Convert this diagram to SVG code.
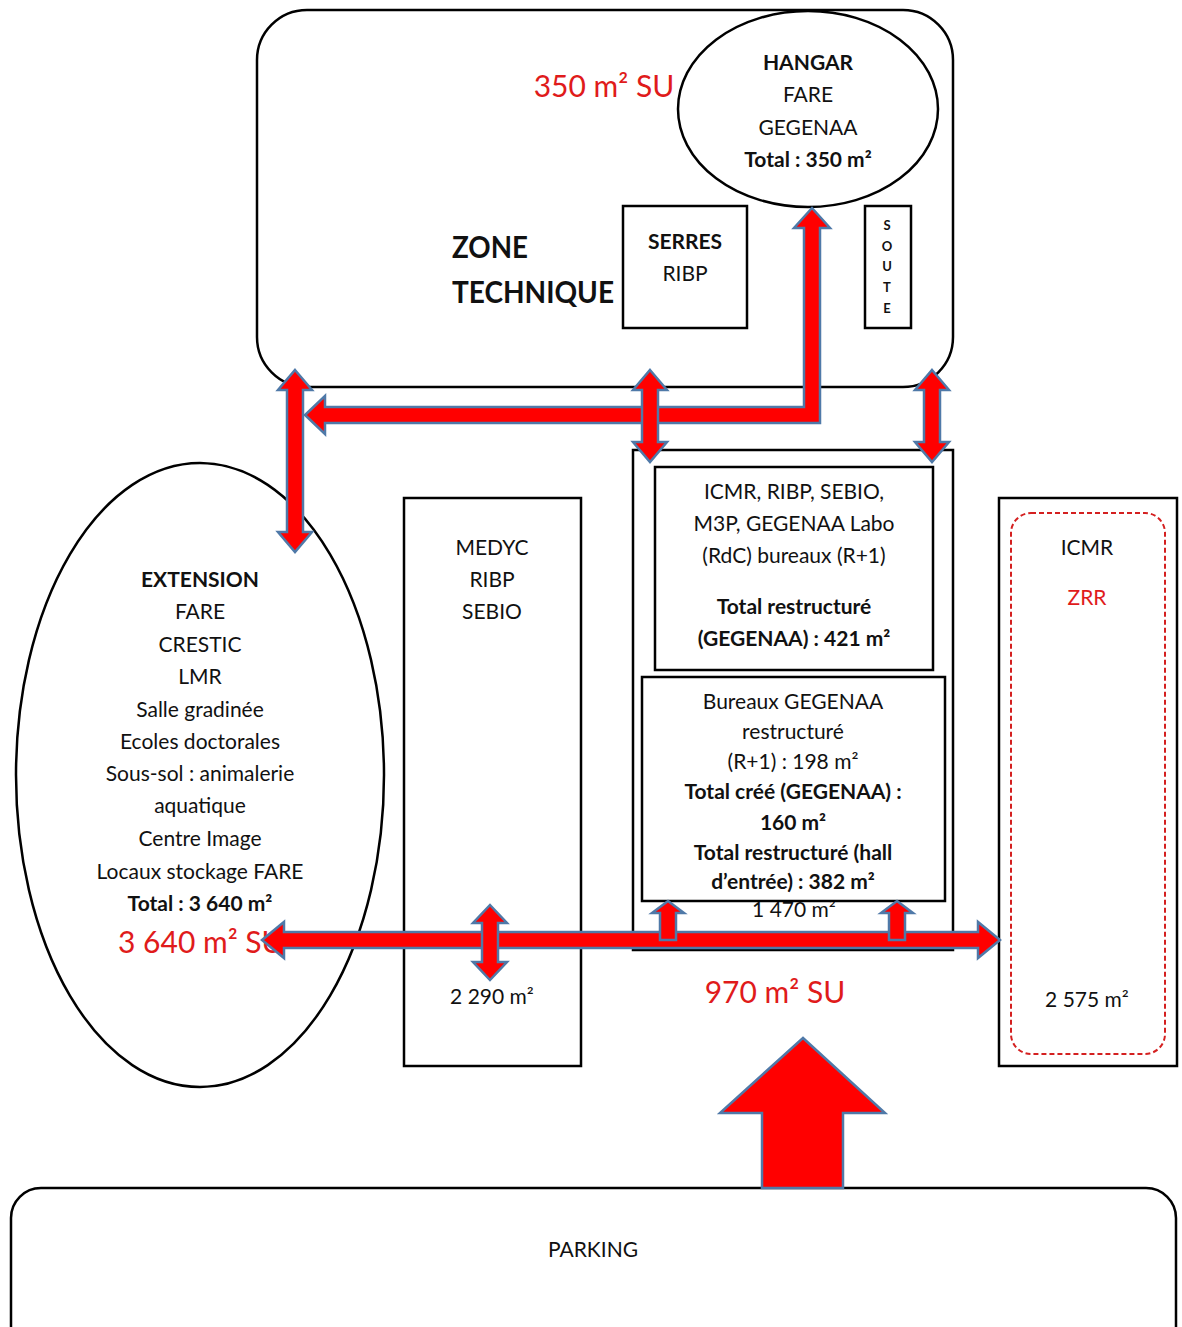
<svg xmlns="http://www.w3.org/2000/svg" width="1182" height="1327" viewBox="0 0 1182 1327">
<style>
.box{fill:#fff;stroke:#000;stroke-width:2.5}
.arr{fill:#ff0000;stroke:#4f79a8;stroke-width:2.5;stroke-linejoin:miter}
text{font-family:Lato,"Open Sans","Liberation Sans",sans-serif;font-size:21px;fill:#111;text-anchor:middle}
.b{font-weight:bold}
.red{fill:#e01b1b;font-size:30px}
.big{font-size:30px;font-weight:bold;text-anchor:start}
.sm{font-size:13px;font-weight:bold}
</style>
<rect width="1182" height="1327" fill="#fff"/>
<g id="zone-technique">
<rect class="box" x="257" y="10" width="696" height="377" rx="50"/>
<text class="big" x="452" y="258" textLength="76" lengthAdjust="spacingAndGlyphs">ZONE</text>
<text class="big" x="452" y="303" textLength="162" lengthAdjust="spacingAndGlyphs">TECHNIQUE</text>
<text class="red" x="604" y="97">350 m² SU</text>
</g>
<g id="hangar">
<ellipse class="box" cx="808" cy="109" rx="130" ry="98"/>
<text class="b" x="808" y="70">HANGAR</text>
<text x="808" y="102">FARE</text>
<text x="808" y="135">GEGENAA</text>
<text class="b" x="808" y="167">Total : 350 m²</text>
</g>
<g id="serres">
<rect class="box" x="623" y="206" width="124" height="122"/>
<text class="b" x="685" y="249">SERRES</text>
<text x="685" y="281">RIBP</text>
</g>
<g id="soute">
<rect class="box" x="865" y="206" width="46" height="122"/>
<text class="sm" x="887" y="230">S</text>
<text class="sm" x="887" y="251">O</text>
<text class="sm" x="887" y="271">U</text>
<text class="sm" x="887" y="292">T</text>
<text class="sm" x="887" y="313">E</text>
</g>
<g id="extension">
<ellipse class="box" cx="200" cy="775" rx="184" ry="312"/>
<text class="b" x="200" y="587">EXTENSION</text>
<text x="200" y="619">FARE</text>
<text x="200" y="652">CRESTIC</text>
<text x="200" y="684">LMR</text>
<text x="200" y="717">Salle gradinée</text>
<text x="200" y="749">Ecoles doctorales</text>
<text x="200" y="781">Sous-sol : animalerie</text>
<text x="200" y="813">aquatique</text>
<text x="200" y="846">Centre Image</text>
<text x="200" y="879">Locaux stockage FARE</text>
<text class="b" x="200" y="911">Total : 3 640 m²</text>
<text class="red" x="118" y="953" style="text-anchor:start">3 640 m² SU</text>
</g>
<g id="medyc">
<rect class="box" x="404" y="498" width="177" height="568"/>
<text x="492" y="555">MEDYC</text>
<text x="492" y="587">RIBP</text>
<text x="492" y="619">SEBIO</text>
<text x="492" y="1004">2 290 m²</text>
</g>
<g id="central">
<rect class="box" x="633" y="450" width="320" height="500"/>
<text x="794" y="917">1 470 m²</text>
<text class="red" x="775" y="1003">970 m² SU</text>
</g>
<g id="labo">
<rect class="box" x="655" y="467" width="278" height="203"/>
<text x="794" y="499">ICMR, RIBP, SEBIO,</text>
<text x="794" y="531">M3P, GEGENAA Labo</text>
<text x="794" y="563">(RdC) bureaux (R+1)</text>
<text class="b" x="794" y="614">Total restructuré</text>
<text class="b" x="794" y="646">(GEGENAA) : 421 m²</text>
</g>
<g id="bureaux">
<rect class="box" x="642" y="677" width="303" height="224"/>
<text x="793" y="709">Bureaux GEGENAA</text>
<text x="793" y="739">restructuré</text>
<text x="793" y="769">(R+1) : 198 m²</text>
<text class="b" x="793" y="799">Total créé (GEGENAA) :</text>
<text class="b" x="793" y="830">160 m²</text>
<text class="b" x="793" y="860">Total restructuré (hall</text>
<text class="b" x="793" y="889">d’entrée) : 382 m²</text>
</g>
<g id="icmr">
<rect class="box" x="999" y="498" width="178" height="568"/>
<rect x="1011" y="513" width="154" height="541" rx="20" fill="none" stroke="#d42020" stroke-width="2" stroke-dasharray="5 3"/>
<text x="1087" y="555">ICMR</text>
<text x="1087" y="605" style="fill:#e01b1b">ZRR</text>
<text x="1087" y="1007">2 575 m²</text>
</g>
<g id="parking">
<rect class="box" x="11" y="1188" width="1165" height="170" rx="30"/>
<text x="593" y="1257">PARKING</text>
</g>
<g id="connectors">
<path class="arr" d="M812,208 L830,228 L820,228 L820,423 L325,423 L325,434 L305,415 L325,396 L325,407 L804,407 L804,228 L794,228 Z"/>
<path class="arr" d="M295,370 L312,390 L303,390 L303,532 L312,532 L295,552 L278,532 L287,532 L287,390 L278,390 Z"/>
<path class="arr" d="M650,370 L667,390 L658,390 L658,442 L667,442 L650,462 L633,442 L642,442 L642,390 L633,390 Z"/>
<path class="arr" d="M932,370 L949,390 L940,390 L940,442 L949,442 L932,462 L915,442 L924,442 L924,390 L915,390 Z"/>
<path class="arr" d="M262,940 L284,922 L284,932 L978,932 L978,922 L1000,940 L978,958 L978,948 L284,948 L284,958 Z"/>
<path class="arr" d="M490,905 L507,923 L498,923 L498,962 L507,962 L490,980 L473,962 L482,962 L482,923 L473,923 Z"/>
<path class="arr" d="M668,901 L684,913 L676,913 L676,940 L660,940 L660,913 L652,913 Z"/>
<path class="arr" d="M897,901 L913,913 L905,913 L905,940 L889,940 L889,913 L881,913 Z"/>
<path class="arr" d="M803,1038 L885,1113 L843,1113 L843,1188 L762,1188 L762,1113 L720,1113 Z"/>
</g>
</svg>
